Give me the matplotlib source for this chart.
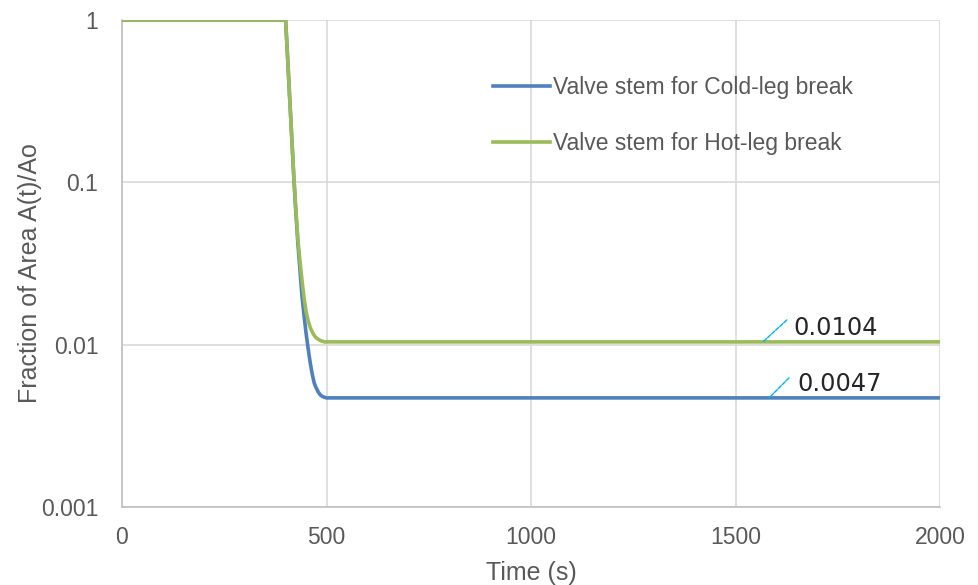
import matplotlib
matplotlib.use("Agg")
import matplotlib.pyplot as plt
from matplotlib.ticker import FixedLocator, FixedFormatter, NullLocator

# ---- data ----
time_hot = [0, 400, 405, 410, 415, 420, 425, 430, 435, 440, 445, 450, 455, 460, 465, 470, 475, 480, 485, 490, 495, 500, 2000]
area_hot = [1, 1, 0.58, 0.33, 0.19, 0.11, 0.068, 0.045, 0.033, 0.025, 0.0195, 0.016, 0.0141, 0.0128, 0.012, 0.0114, 0.011, 0.0108, 0.0106, 0.0105, 0.0104, 0.0104, 0.0104]

time_cold = [0, 400, 405, 410, 415, 420, 425, 430, 435, 440, 445, 450, 455, 460, 465, 470, 475, 480, 485, 490, 495, 500, 510, 2000]
area_cold = [1, 1, 0.58, 0.33, 0.19, 0.108, 0.066, 0.042, 0.029, 0.02, 0.0152, 0.0118, 0.0095, 0.0078, 0.0066, 0.0058, 0.0054, 0.0051, 0.0049, 0.0048, 0.00474, 0.0047, 0.0047, 0.0047]

series_labels = ["Valve stem for Cold-leg break", "Valve stem for Hot-leg break"]
x_ticks = [0, 500, 1000, 1500, 2000]
y_ticks = [0.001, 0.01, 0.1, 1]
y_tick_labels = ["0.001", "0.01", "0.1", "1"]
x_label = "Time (s)"
y_label = "Fraction of Area A(t)/Ao"
ann_cold = (1582, 0.0047, "0.0047")
ann_hot = (1567, 0.0104, "0.0104")

# ---- style ----
BLUE = "#4F81BD"
GREEN = "#9BBB59"
GRID = "#D9D9D9"
TXT = "#595959"
plt.rcParams["font.family"] = ["Liberation Sans", "DejaVu Sans"]

fig = plt.figure(figsize=(9.79, 5.85), dpi=100)
ax = fig.add_axes([122/979, 1 - 507/585, (940 - 122)/979, (507 - 20)/585])

ax.plot(time_cold, area_cold, color=BLUE, lw=2.6, label=series_labels[0], zorder=3)
ax.plot(time_hot, area_hot, color=GREEN, lw=2.6, label=series_labels[1], zorder=4)

ax.set_yscale("log")
ax.set_xlim(0, 2000)
ax.set_ylim(0.001, 1)
ax.xaxis.set_major_locator(FixedLocator(x_ticks))
ax.yaxis.set_major_locator(FixedLocator(y_ticks))
ax.yaxis.set_major_formatter(FixedFormatter(y_tick_labels))
ax.yaxis.set_minor_locator(NullLocator())
ax.grid(True, which="major", color=GRID, lw=1.2)
ax.set_axisbelow(True)
for s in ["right", "top"]:
    ax.spines[s].set_visible(False)
for s in ["left", "bottom"]:
    ax.spines[s].set_color("#BFBFBF")
    ax.spines[s].set_linewidth(1.2)
ax.tick_params(length=0, labelsize=16.5, colors=TXT)
ax.tick_params(axis="x", pad=14)
ax.tick_params(axis="y", pad=17)
ax.set_xlabel(x_label, fontsize=18, color=TXT, labelpad=8)
ax.set_ylabel(y_label, fontsize=18, color=TXT)
ax.yaxis.set_label_coords(-0.098, 0.48)

leg = ax.legend(loc="upper left", bbox_to_anchor=(493/979, 1 - 76/585),
                bbox_transform=fig.transFigure, frameon=False, fontsize=16.5,
                handlelength=2.48, handletextpad=0.13, labelspacing=1.43,
                borderpad=0, borderaxespad=0)
for t in leg.get_texts():
    t.set_color(TXT)

for (xv, yv, lab), toff, loff in [(ann_hot, (30, 14), (24, 22)),
                                  (ann_cold, (28, 14), (20, 20))]:
    ax.annotate("", xy=(xv, yv), xytext=loff, textcoords="offset pixels",
                arrowprops=dict(arrowstyle="-", color="#00B0F0", lw=1,
                                shrinkA=0, shrinkB=0, linestyle=(0, (3, 1))),
                zorder=6)
    ax.annotate(lab, xy=(xv, yv), xytext=toff, textcoords="offset pixels",
                fontsize=17.3, color="#262626", family="DejaVu Sans",
                ha="left", va="center", zorder=6)

fig.savefig("out.png", dpi=100)
